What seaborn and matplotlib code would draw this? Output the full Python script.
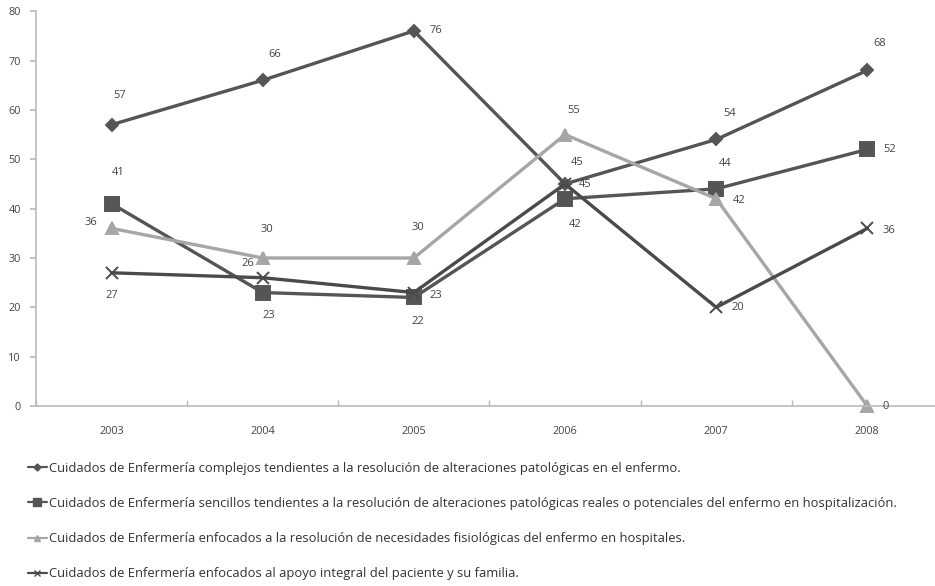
import matplotlib
matplotlib.use("Agg")
import matplotlib.pyplot as plt
from matplotlib.lines import Line2D
import seaborn as sns
import pandas as pd

years = ["2003", "2004", "2005", "2006", "2007", "2008"]
series_names = [
    "Cuidados de Enfermería complejos tendientes a la resolución de alteraciones patológicas en el enfermo.",
    "Cuidados de Enfermería sencillos tendientes a la resolución de alteraciones patológicas reales o potenciales del enfermo en hospitalización.",
    "Cuidados de Enfermería enfocados a la resolución de necesidades fisiológicas del enfermo en hospitales.",
    "Cuidados de Enfermería enfocados al apoyo integral del paciente y su familia.",
]
complejos = [57, 66, 76, 45, 54, 68]
sencillos = [41, 23, 22, 42, 44, 52]
fisiologicas = [36, 30, 30, 55, 42, 0]
apoyo = [27, 26, 23, 45, 20, 36]
values = [complejos, sencillos, fisiologicas, apoyo]

# label offsets in pixels (dx, dy) - layout only
offsets = [
    [(8, 29), (12, 26), (22, 0), (12, 21), (13, 26), (12, 27)],
    [(7, 31), (6, -23), (4, -24), (10, -26), (9, 25), (22, 0)],
    [(-21, 6), (4, 28), (4, 30), (9, 24), (23, -2), (18, 0)],
    [(0, -23), (-15, 14), (22, -3), (20, -1), (22, 0), (22, -2)],
]

sns.set_theme(style="white")
plt.rcParams["font.family"] = ["Open Sans", "DejaVu Sans"]

colors = ["#555555", "#555555", "#a6a6a6", "#4a4a4a"]
markers = ["D", "s", "^", "x"]
msizes = [6.5, 9.5, 8.5, 9]

fig = plt.figure(figsize=(9.35, 5.86), dpi=100)
ax = fig.add_axes([0.0385, 0.307, 0.97, 0.674])

for name, vals, c, m, ms in zip(series_names, values, colors, markers, msizes):
    d = pd.DataFrame({"x": list(range(len(vals))), "value": vals})
    sns.lineplot(data=d, x="x", y="value", color=c, marker=m, markersize=ms,
                 markeredgecolor=c, markerfacecolor=c, markeredgewidth=1.4,
                 linewidth=2.4, ax=ax, label=name, clip_on=False)

for vals, offs in zip(values, offsets):
    for i, (v, o) in enumerate(zip(vals, offs)):
        ax.annotate(str(v), (i, v), xytext=o, textcoords="offset pixels",
                    ha="center", va="center", fontsize=8, color="#444444")

ax.set_xlim(-0.5, 5.45)
ax.set_ylim(0, 80)
ax.set_yticks(range(0, 81, 10))
ax.set_xticks(range(6))
ax.set_xticklabels(years)
ax.set_xticks([i + 0.5 for i in range(-1, 6)], minor=True)
ax.tick_params(axis="x", which="major", length=0, pad=14, labelsize=7.8, labelcolor="#444444")
ax.tick_params(axis="x", which="minor", length=4, direction="in", color="#bbbbbb", bottom=True)
ax.tick_params(axis="y", length=4, direction="out", color="#bbbbbb", labelsize=7.8, labelcolor="#444444", left=True, pad=7)
ax.set_xlabel("")
ax.set_ylabel("")
for s in ["top", "right"]:
    ax.spines[s].set_visible(False)
for s in ["left", "bottom"]:
    ax.spines[s].set_color("#bbbbbb")
    ax.spines[s].set_linewidth(1.2)

ax.get_legend().remove()
proxies = [Line2D([], [], color=c, marker=m, markersize=ms * 0.55,
                  markeredgecolor=c, markerfacecolor=c, linewidth=1.6)
           for c, m, ms in zip(colors, markers, msizes)]
fig.legend(proxies, series_names, loc="upper left", bbox_to_anchor=(0.017, 0.232),
           frameon=False, fontsize=9.4, labelspacing=1.70, handlelength=1.5,
           handletextpad=0.12, labelcolor="#333333")

fig.savefig("out.png", dpi=100)
